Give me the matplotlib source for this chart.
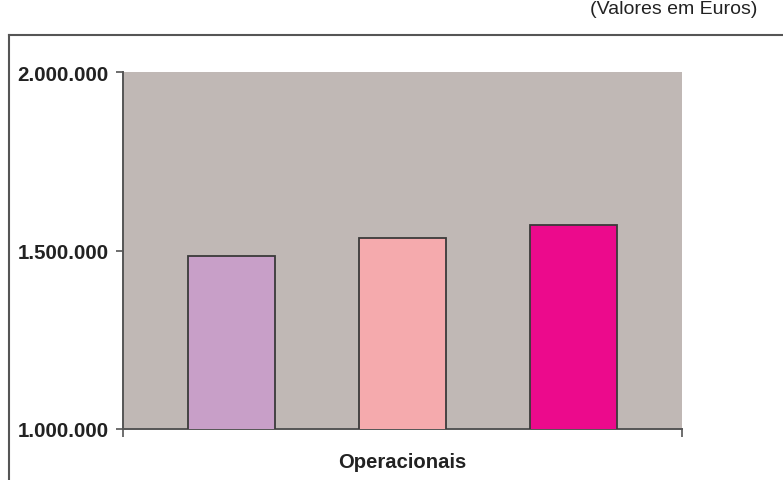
import matplotlib
matplotlib.use("Agg")
import matplotlib.pyplot as plt
from matplotlib.lines import Line2D
from matplotlib.ticker import FixedLocator, FuncFormatter

plt.rcParams['font.family'] = ['Liberation Sans', 'DejaVu Sans']

category = "Operacionais"
series_values = [1484000, 1534000, 1571000]
bar_colors = ["#C89FC8", "#F5AAAD", "#EC0A8C"]
y_ticks = [1000000, 1500000, 2000000]
unit_note = "(Valores em Euros)"

W, H = 783, 481
fig = plt.figure(figsize=(W / 100, H / 100), dpi=100)
ax = fig.add_axes([122.7 / W, 1 - 429.7 / H, (682 - 122.7) / W, (429.7 - 73.3) / H])
ax.set_facecolor("#C0B8B5")

x = list(range(len(series_values)))
ax.bar(x, series_values, width=0.507, color=bar_colors, edgecolor="#3a3a3a",
       linewidth=1.3, bottom=0, zorder=3)
ax.set_xlim(-0.633, 2.633)
ax.set_ylim(y_ticks[0], y_ticks[-1])

ax.yaxis.set_major_locator(FixedLocator(y_ticks))
ax.yaxis.set_major_formatter(FuncFormatter(lambda v, p: f"{int(v):,}".replace(",", ".")))
ax.tick_params(axis='y', length=5, width=1.2, color="#555555", pad=5,
               labelsize=14.8, labelcolor="#222222")
for lab in ax.get_yticklabels():
    lab.set_fontweight("bold")

ax.set_xticks([-0.633, 2.633])
ax.set_xticklabels(["", ""])
ax.tick_params(axis='x', length=6, width=1.2, color="#555555", direction='out')
ax.set_xlabel(category, fontsize=14.6, fontweight="bold", color="#222222", labelpad=7)

for s in ["top", "right"]:
    ax.spines[s].set_visible(False)
ax.spines["left"].set_color("#555555")
ax.spines["left"].set_linewidth(1.4)
ax.spines["bottom"].set_color("#555555")
ax.spines["bottom"].set_linewidth(1.4)

# outer frame
fig.add_artist(Line2D([9 / W, 1.0], [1 - 35.7 / H, 1 - 35.7 / H], transform=fig.transFigure,
                      color="#555555", linewidth=1.5))
fig.add_artist(Line2D([9 / W, 9 / W], [1 - 35.7 / H, 0.0], transform=fig.transFigure,
                      color="#555555", linewidth=1.5))

fig.text(757 / W, 1 - 9 / H, unit_note, ha="right", va="center", fontsize=14, color="#222222")

fig.savefig("out.png", dpi=100)
